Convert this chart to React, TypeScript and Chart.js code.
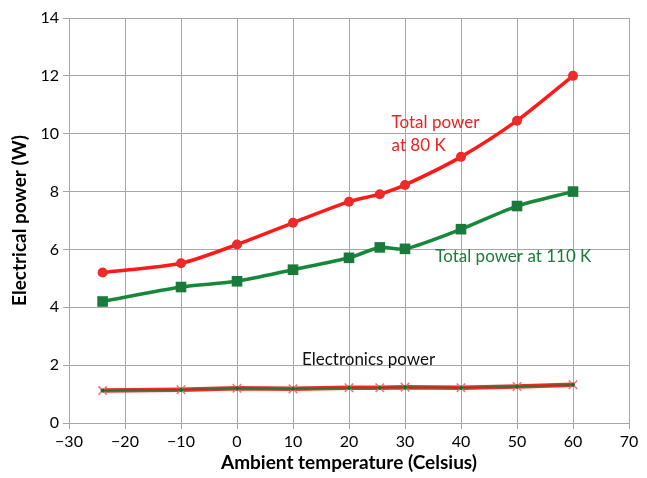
import React, { useEffect, useRef } from "react";
import { Chart, registerables } from "chart.js";

Chart.register(...registerables);

const temps = [-24, -10, 0, 10, 20, 25.5, 30, 40, 50, 60];
const power80K = [5.2, 5.52, 6.17, 6.92, 7.65, 7.91, 8.23, 9.2, 10.45, 12.0];
const power110K = [4.2, 4.7, 4.9, 5.3, 5.71, 6.07, 6.02, 6.7, 7.5, 8.0];
const electronicsPower = [1.12, 1.15, 1.2, 1.18, 1.22, 1.22, 1.24, 1.22, 1.26, 1.32];

const xTitle = "Ambient temperature (Celsius)";
const yTitle = "Electrical power (W)";
const label80 = ["Total power", "at 80 K"];
const label110 = "Total power at 110 K";
const labelElec = "Electronics power";

const FONT = "Lato, 'Open Sans', sans-serif";

const pts = (ys: number[]) => temps.map((x, i) => ({ x, y: ys[i] }));

export default function App() {
  const ref = useRef<HTMLCanvasElement | null>(null);
  useEffect(() => {
    if (!ref.current) return;
    const annot = {
      id: "annot",
      afterDatasetsDraw(chart: any) {
        const { ctx, scales } = chart;
        const xs = scales.x, ys = scales.y;
        ctx.save();
        ctx.font = `17px ${FONT}`;
        ctx.textBaseline = "middle";
        ctx.textAlign = "left";
        ctx.fillStyle = "#ee2020";
        ctx.fillText(label80[0], xs.getPixelForValue(27.6), ys.getPixelForValue(10.38));
        ctx.fillText(label80[1], xs.getPixelForValue(27.6), ys.getPixelForValue(9.6));
        ctx.fillStyle = "#1d7a3c";
        ctx.fillText(label110, xs.getPixelForValue(35.4), ys.getPixelForValue(5.75));
        ctx.fillStyle = "#111";
        ctx.fillText(labelElec, xs.getPixelForValue(11.6), ys.getPixelForValue(2.18));
        ctx.restore();
      },
    };
    const chart = new Chart(ref.current, {
      type: "scatter",
      data: {
        datasets: [
          {
            data: pts(electronicsPower),
            showLine: true,
            borderColor: "#1f7a2e",
            borderWidth: 1.5,
            pointStyle: "circle",
            pointRadius: 2,
            pointBackgroundColor: "#1f6a2e",
            pointBorderWidth: 0,
            tension: 0,
          },
          {
            data: pts(electronicsPower),
            showLine: true,
            borderColor: "#f22a2a",
            borderWidth: 4.5,
            pointStyle: "crossRot",
            pointRadius: 6,
            pointBorderColor: "#f07070",
            pointBorderWidth: 1.5,
            tension: 0,
          },
          {
            data: pts(power110K),
            showLine: true,
            borderColor: "#17883a",
            backgroundColor: "#1a7a3c",
            borderWidth: 3.5,
            pointStyle: "rect",
            pointRadius: 7.5,
            pointBorderWidth: 0,
            tension: 0.25,
          },
          {
            data: pts(power80K),
            showLine: true,
            borderColor: "#ff1a1a",
            backgroundColor: "#ee2a2a",
            borderWidth: 3.5,
            pointStyle: "circle",
            pointRadius: 5,
            pointBorderWidth: 0,
            tension: 0.25,
          },
        ],
      },
      options: {
        animation: false,
        responsive: true,
        maintainAspectRatio: false,
        layout: { padding: { top: 18, right: 18, left: 0, bottom: 0 } },
        plugins: {
          legend: { display: false },
          tooltip: { enabled: false },
        },
        scales: {
          x: {
            type: "linear",
            min: -30,
            max: 70,
            ticks: {
              stepSize: 10,
              color: "#000",
              font: { family: FONT, size: 16 },
              padding: 3,
              callback: (v: any) => String(v).replace("-", "\u2212"),
            },
            grid: { color: "#a6a6a6", lineWidth: 1, tickLength: 6 },
            border: { color: "#a6a6a6" },
            title: {
              display: true,
              text: xTitle,
              color: "#000",
              font: { family: FONT, size: 19, weight: "bold" },
              padding: { top: 0 },
            },
            afterFit: (s: any) => { s.height = 55; },
          },
          y: {
            type: "linear",
            min: 0,
            max: 14,
            ticks: {
              stepSize: 2,
              color: "#000",
              font: { family: FONT, size: 16 },
              padding: 4,
            },
            grid: { color: "#a6a6a6", lineWidth: 1, tickLength: 6 },
            border: { color: "#a6a6a6" },
            title: {
              display: true,
              text: yTitle,
              color: "#000",
              font: { family: FONT, size: 19, weight: "bold" },
              padding: { top: 8, bottom: 4 },
            },
            afterFit: (s: any) => { s.width = 69; },
          },
        },
      },
      plugins: [annot],
    } as any);
    return () => chart.destroy();
  }, []);
  return (
    <div style={{ position: "fixed", left: 0, top: 0, width: 647, height: 478, background: "#fff" }}>
      <canvas ref={ref} />
    </div>
  );
}
